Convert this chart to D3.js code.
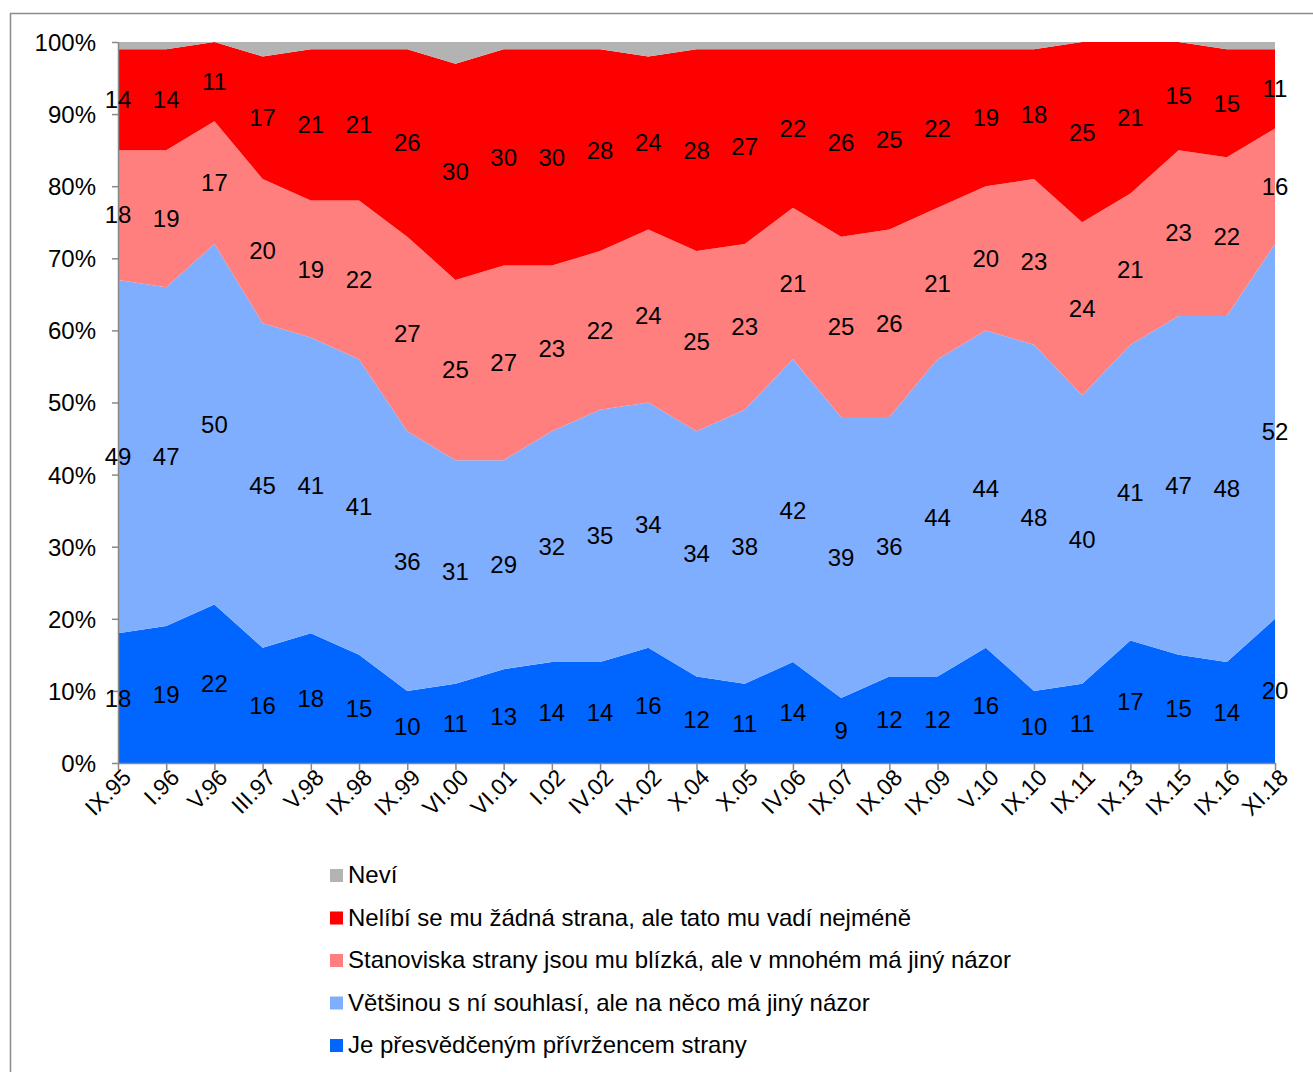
<!DOCTYPE html>
<html><head><meta charset="utf-8">
<script src="https://cdnjs.cloudflare.com/ajax/libs/d3/7.8.5/d3.min.js"></script>
<style>body{margin:0;background:#fff}text{font-family:"Liberation Sans",Arial,sans-serif}</style>
</head><body><svg width="1313" height="1072"></svg>
<script>
const categories = ["IX.95","I.96","V.96","III.97","V.98","IX.98","IX.99","VI.00","VI.01","I.02","IV.02","IX.02","X.04","X.05","IV.06","IX.07","IX.08","IX.09","V.10","IX.10","IX.11","IX.13","IX.15","IX.16","XI.18"];
const presvedceny = [18,19,22,16,18,15,10,11,13,14,14,16,12,11,14,9,12,12,16,10,11,17,15,14,20];
const vetsinou = [49,47,50,45,41,41,36,31,29,32,35,34,34,38,42,39,36,44,44,48,40,41,47,48,52];
const stanoviska = [18,19,17,20,19,22,27,25,27,23,22,24,25,23,21,25,26,21,20,23,24,21,23,22,16];
const nelibi = [14,14,11,17,21,21,26,30,30,30,28,24,28,27,22,26,25,22,19,18,25,21,15,15,11];
const nevi = [1,1,0,2,1,1,1,3,1,1,1,2,1,1,1,1,1,1,1,1,0,0,0,1,1];
const seriesNames = ["Je přesvědčeným přívržencem strany","Většinou s ní souhlasí, ale na něco má jiný názor","Stanoviska strany jsou mu blízká, ale v mnohém má jiný názor","Nelíbí se mu žádná strana, ale tato mu vadí nejméně","Neví"];
const colors = ["#0066FF","#80AEFF","#FF7F7F","#FF0000","#B3B3B3"];
const yTicks = [0,10,20,30,40,50,60,70,80,90,100];

const keys = ["s0","s1","s2","s3","s4"];
const rows = categories.map((c,i)=>({c, s0:presvedceny[i], s1:vetsinou[i], s2:stanoviska[i], s3:nelibi[i], s4:nevi[i]}));
const stacked = d3.stack().keys(keys)(rows);

const svg = d3.select("svg");
svg.append("rect").attr("x",10.5).attr("y",13.5).attr("width",1400).attr("height",1100)
  .attr("fill","none").attr("stroke","#8c8c8c").attr("stroke-width",1.5);

const x = d3.scalePoint().domain(categories).range([118,1275]);
const y = d3.scaleLinear().domain([0,100]).range([763,42]);

const area = d3.area().x(d=>x(d.data.c)).y0(d=>y(d[0])).y1(d=>y(d[1]));
svg.selectAll("path.band").data(stacked).enter().append("path").attr("class","band")
  .attr("d",area).attr("fill",(d,i)=>colors[i]);

// axes
const ya = svg.append("g").attr("transform","translate(118,0)")
  .call(d3.axisLeft(y).tickValues(yTicks).tickFormat(d=>d+"%").tickSize(6).tickSizeOuter(0));
ya.select(".domain").attr("stroke","#888").attr("stroke-width",1.5);
ya.selectAll(".tick line").attr("stroke","#888").attr("stroke-width",1.5);
ya.selectAll("text").attr("font-size",24).attr("fill","#000").attr("x",-22).attr("dy","0.35em").attr("y",0);

const xa = svg.append("g").attr("transform","translate(0,763)")
  .call(d3.axisBottom(x).tickSize(7).tickSizeOuter(0));
xa.select(".domain").attr("stroke","#888").attr("stroke-width",1.5);
xa.selectAll(".tick line").attr("stroke","#888").attr("stroke-width",1.5);
xa.selectAll("text").attr("font-size",23).attr("fill","#000")
  .attr("text-anchor","end").attr("y",0).attr("dy",0)
  .attr("transform","translate(14,16) rotate(-45)");

// value labels (first 4 series)
stacked.slice(0,4).forEach(s=>{
  svg.append("g").selectAll("text").data(s).enter().append("text")
    .attr("x",d=>x(d.data.c)).attr("y",d=>y((d[0]+d[1])/2))
    .attr("text-anchor","middle").attr("dy","0.35em").attr("font-size",24).attr("fill","#000")
    .text(d=>d[1]-d[0]);
});

// legend
const legendOrder = [4,3,2,1,0];
const lg = svg.append("g").selectAll("g").data(legendOrder).enter().append("g")
  .attr("transform",(d,i)=>`translate(330,${875+i*42.5})`);
lg.append("rect").attr("x",0).attr("y",-6).attr("width",13).attr("height",13).attr("fill",d=>colors[d]);
lg.append("text").attr("x",18).attr("dy","0.35em").attr("font-size",24).attr("fill","#000").text(d=>seriesNames[d]);
</script></body></html>
